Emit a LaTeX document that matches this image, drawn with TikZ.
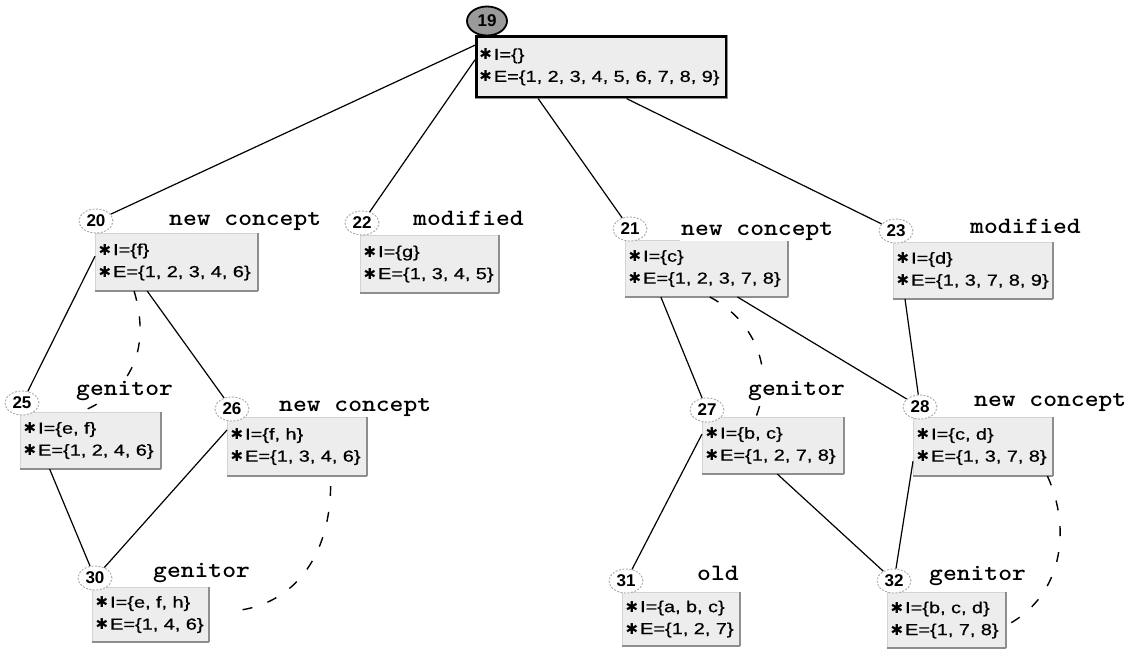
\documentclass[tikz,border=0pt]{standalone}
\usepackage{fontspec}
\usepackage{graphicx}
\setmainfont{Liberation Sans}
\newfontfamily\boxfont[FakeStretch=1.25,FakeBold=0.6]{Liberation Sans}
\newfontfamily\numfont{Liberation Sans}
\newfontfamily\symfont{DejaVu Sans}
\usetikzlibrary{shapes.geometric,calc}

\definecolor{boxfill}{HTML}{EDEDED}
\definecolor{boxlight}{HTML}{D4D4D4}
\definecolor{boxdark}{HTML}{8E8E8E}
\definecolor{ringgray}{HTML}{A8A8A8}
\definecolor{topfill}{HTML}{9A9A9A}

% one bulleted, unbreakable line of a concept box
\newcommand\bline[1]{\mbox{{\symfont\fontsize{15}{15}\selectfont ✱}\hspace{2pt}#1}}
% wide typewriter status word
\newcommand\tagtext[1]{\scalebox{1.12}[1]{#1}}

\tikzset{
  box/.style={rectangle, anchor=north west, fill=boxfill, draw=boxlight,
    line width=1pt, inner xsep=3pt, inner ysep=0pt, align=left,
    font=\boxfont\fontsize{16}{22}\selectfont,
    append after command={(\tikzlastnode.north east) edge[boxshade] (\tikzlastnode.south east)
                          (\tikzlastnode.south east) edge[boxshade] (\tikzlastnode.south west)}},
  boxshade/.style={draw=boxdark, line width=1.2pt},
  topbox/.style={box, draw=black, line width=2.6pt},
  ring/.style={ellipse, draw=ringgray, fill=white, line width=0.9pt,
    dash pattern=on 2pt off 1.5pt, minimum width=34pt, minimum height=24pt,
    inner sep=0pt, font=\numfont\bfseries\fontsize{17}{17}\selectfont},
  topring/.style={ring, solid, draw=black, fill=topfill, line width=1.8pt,
    minimum width=40pt, minimum height=29pt},
  tag/.style={anchor=base west, fill=white, inner sep=1pt,
    font=\ttfamily\bfseries\fontsize{23.5}{26}\selectfont},
  link/.style={draw=black, line width=1.2pt},
  genlink/.style={draw=black, line width=1.4pt, dash pattern=on 10pt off 16pt},
}

\begin{document}
\begin{tikzpicture}[x=1pt,y=-1pt]
\useasboundingbox (0,0) rectangle (1125,649);

% ---- concept boxes ----
\node[ring, topring] (e19) at (487,21) {19};
\node[box, topbox, text width=244pt, minimum height=61pt] (b19) at (475,35)
  {\bline{I=\{\}}\\\bline{E=\{1, 2, 3, 4, 5, 6, 7, 8, 9\}}};

\node[box, text width=156pt, minimum height=57pt] (b20) at (95,233)
  {\bline{I=\{f\}}\\\bline{E=\{1, 2, 3, 4, 6\}}};
\node[box, text width=132pt, minimum height=57pt] (b22) at (360,235)
  {\bline{I=\{g\}}\\\bline{E=\{1, 3, 4, 5\}}};
\node[box, text width=156pt, minimum height=56pt] (b21) at (625,240)
  {\bline{I=\{c\}}\\\bline{E=\{1, 2, 3, 7, 8\}}};
\node[box, text width=153pt, minimum height=56pt] (b23) at (893,242)
  {\bline{I=\{d\}}\\\bline{E=\{1, 3, 7, 8, 9\}}};

\node[box, text width=134pt, minimum height=56pt] (b25) at (20,412)
  {\bline{I=\{e, f\}}\\\bline{E=\{1, 2, 4, 6\}}};
\node[box, text width=133pt, minimum height=58pt] (b26) at (227,417)
  {\bline{I=\{f, h\}}\\\bline{E=\{1, 3, 4, 6\}}};
\node[box, text width=135pt, minimum height=56pt] (b27) at (702,417)
  {\bline{I=\{b, c\}}\\\bline{E=\{1, 2, 7, 8\}}};
\node[box, text width=133pt, minimum height=58pt] (b28) at (913,417)
  {\bline{I=\{c, d\}}\\\bline{E=\{1, 3, 7, 8\}}};

\node[box, text width=110pt, minimum height=54pt] (b30) at (92,587)
  {\bline{I=\{e, f, h\}}\\\bline{E=\{1, 4, 6\}}};
\node[box, text width=111pt, minimum height=53pt] (b31) at (622,592)
  {\bline{I=\{a, b, c\}}\\\bline{E=\{1, 2, 7\}}};
\node[box, text width=112pt, minimum height=55pt] (b32) at (887,592)
  {\bline{I=\{b, c, d\}}\\\bline{E=\{1, 7, 8\}}};

% ---- concept numbers ----
\node[ring] (e20) at (96,221) {20};
\node[ring] (e22) at (362,223) {22};
\node[ring] (e21) at (630,229) {21};
\node[ring] (e23) at (896,231) {23};
\node[ring] (e25) at (22,403) {25};
\node[ring] (e26) at (232,409) {26};
\node[ring] (e27) at (707,410) {27};
\node[ring] (e28) at (920,407) {28};
\node[ring] (e30) at (95,578) {30};
\node[ring] (e31) at (626,581) {31};
\node[ring] (e32) at (894,581) {32};

% ---- lattice order ----
\path[link] ($(b19.north west)!0.16!(b19.south west)$) edge (e20)
            ($(b19.north west)!0.39!(b19.south west)$) edge (e22)
            ($(b19.south west)!0.25!(b19.south east)$) edge (e21)
            ($(b19.south west)!0.6!(b19.south east)$) edge (e23)
            ($(b20.north west)!0.4!(b20.south west)$) edge (e25)
            ($(b20.south west)!0.32!(b20.south east)$) edge (e26)
            ($(b25.south west)!0.21!(b25.south east)$) edge (e30)
            ($(b26.north west)!0.22!(b26.south west)$) edge (e30)
            ($(b21.south west)!0.22!(b21.south east)$) edge (e27)
            ($(b21.south west)!0.69!(b21.south east)$) edge (e28)
            ($(b23.south west)!0.075!(b23.south east)$) edge (e28)
            ($(b27.north west)!0.3!(b27.south west)$) edge (e31)
            ($(b27.south west)!0.53!(b27.south east)$) edge (e32)
            ($(b28.north west)!0.75!(b28.south west)$) edge (e32);

% ---- genitor links ----
\draw[genlink] ($(b20.south west)!0.24!(b20.south east)$)
  .. controls (150,345) and (135,390) .. ($(b25.north west)!0.43!(b25.north east)$);
\draw[genlink] ($(b21.south west)!0.52!(b21.south east)$)
  .. controls (745,315) and (778,360) .. ($(b27.north west)!0.38!(b27.north east)$);
\draw[genlink, dash phase=-10pt, shorten >=20pt] ($(b26.south west)!0.74!(b26.south east)$)
  .. controls (333,560) and (290,608) .. ($(b30.north east)!0.46!(b30.south east)$);
\draw[genlink, shorten >=3pt] ($(b28.south west)!0.96!(b28.south east)$)
  .. controls (1072,530) and (1062,595) .. ($(b32.north east)!0.6!(b32.south east)$);

% ---- status tags ----
\node[tag] (t20) at (168,225) {\tagtext{new concept}};
\node[tag] (t22) at (412,225) {\tagtext{modified}};
\node[tag] (t21) at (680,235) {\tagtext{new concept}};
\node[tag] (t23) at (969,233) {\tagtext{modified}};
\node[tag] (t25) at (75,395) {\tagtext{genitor}};
\node[tag] (t26) at (278,411) {\tagtext{new concept}};
\node[tag] (t27) at (747,395) {\tagtext{genitor}};
\node[tag] (t28) at (973,406) {\tagtext{new concept}};
\node[tag] (t30) at (152,577) {\tagtext{genitor}};
\node[tag] (t31) at (696,580) {\tagtext{old}};
\node[tag] (t32) at (928,580) {\tagtext{genitor}};
\end{tikzpicture}
\end{document}
